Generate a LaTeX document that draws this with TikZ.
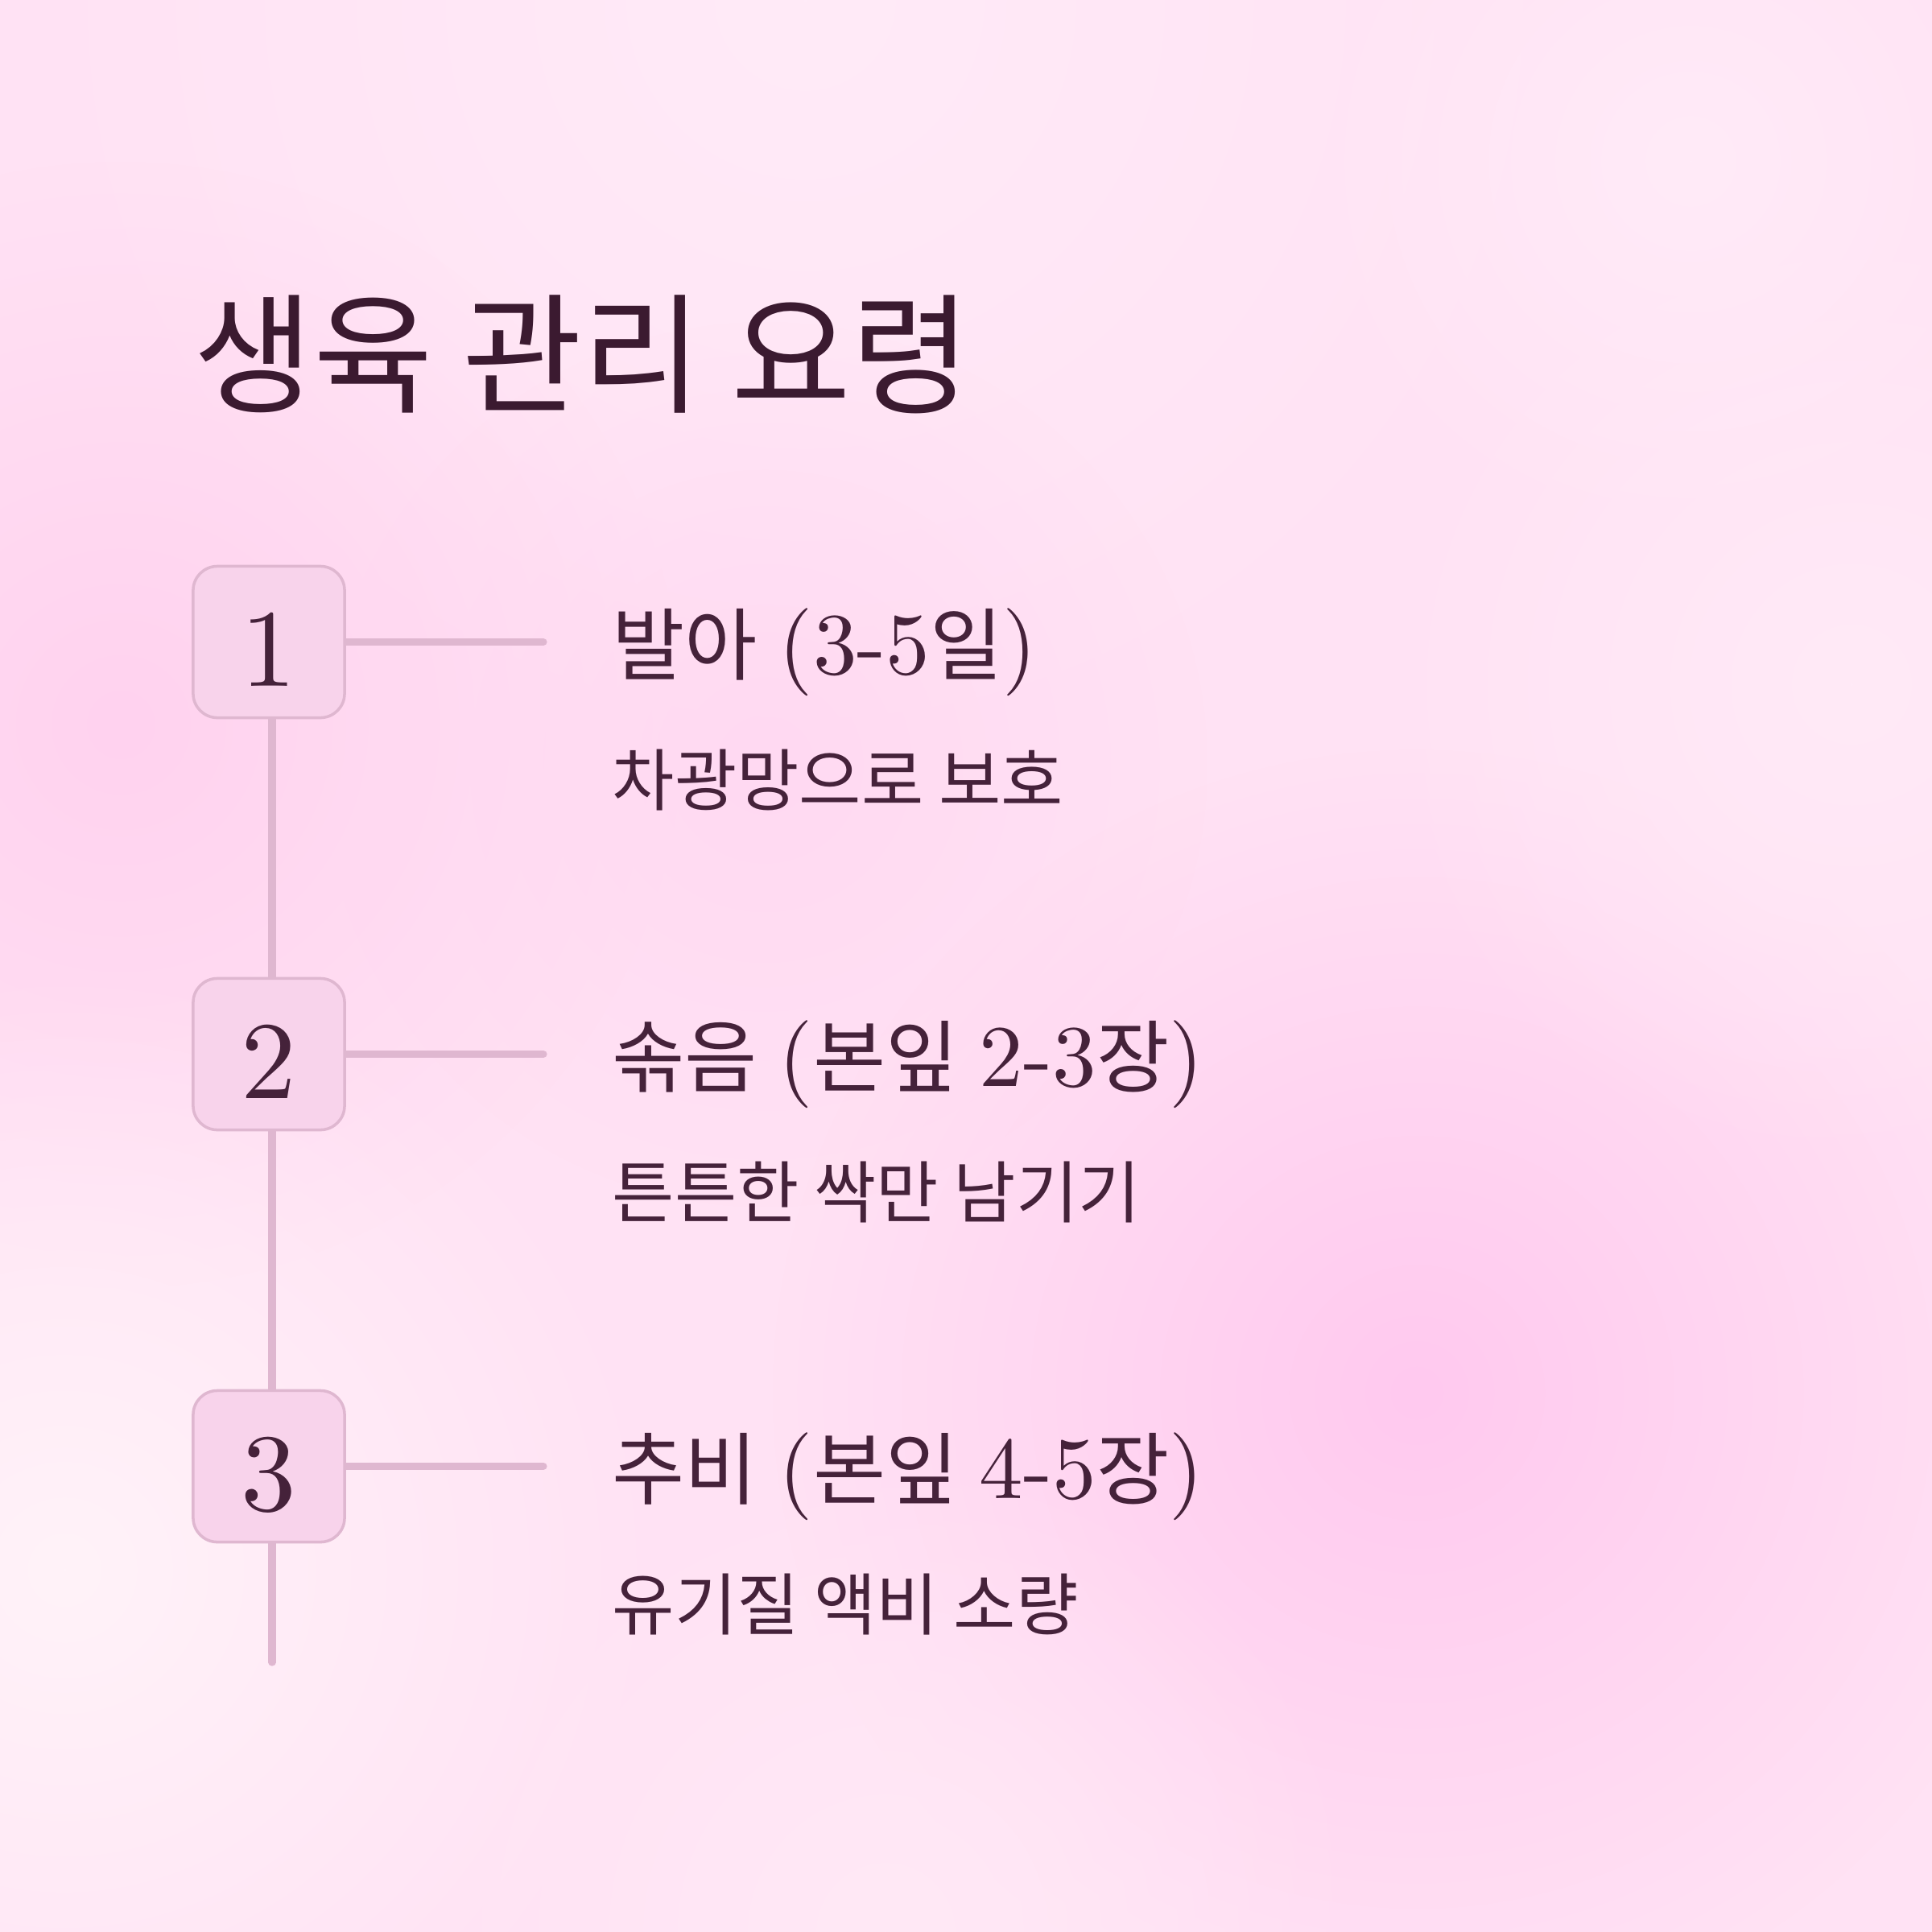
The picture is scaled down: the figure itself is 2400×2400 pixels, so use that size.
\documentclass[tikz,border=0pt]{standalone}
\usepackage{fontspec}
\setmainfont{lmroman10-regular}[Extension=.otf]
\newfontfamily\kr{Noto Sans CJK KR}
\usetikzlibrary{fadings}
\definecolor{bgbase}{HTML}{FFE2F4}
\definecolor{bgA}{HTML}{FFEBF8}
\definecolor{bgB}{HTML}{FFD2EF}
\definecolor{bgC}{HTML}{FFD9F2}
\definecolor{bgD}{HTML}{FFC9EF}
\definecolor{bgE}{HTML}{FFF3F9}
\definecolor{bgF}{HTML}{FFEAF7}
\definecolor{bgG}{HTML}{FFE9F6}
\definecolor{boxfill}{HTML}{F8D3EB}
\definecolor{boxline}{HTML}{DFB7D0}
\definecolor{txt}{HTML}{45223A}
\definecolor{ttl}{HTML}{3B1A30}
\tikzfading[name=softc, inner color=transparent!0, outer color=transparent!100]
\pgfdeclarelayer{back}
\pgfdeclarelayer{lines}
\pgfsetlayers{back,lines,main}
\newcommand\hk[1]{{\kr\fontsize{27.9pt}{30pt}\selectfont #1}}
\newcommand\headfont{\fontsize{31pt}{34pt}\selectfont\spaceskip=7.5pt plus 2pt minus 1pt\relax}
\tikzset{
  numbox/.style={draw=boxline, line width=1pt, fill=boxfill, rounded corners=0.3cm,
    minimum width=1.88cm, minimum height=1.88cm, inner sep=0pt},
  numtxt/.style={anchor=base, inner sep=0pt, text=txt, font=\fontsize{39pt}{40pt}\selectfont},
  conn/.style={draw=boxline, line width=2.6pt, line cap=round},
  head/.style={anchor=base west, inner sep=0pt, text=txt, font=\headfont},
  sub/.style={anchor=base west, inner sep=0pt, text=txt, font=\kr\fontsize{23.9pt}{26pt}\selectfont},
  blob/.style={path fading=softc}
}
\begin{document}
\begin{tikzpicture}[x=0.01cm, y=-0.01cm]
\useasboundingbox (0,0) rectangle (2400,2400);
\begin{pgfonlayer}{back}
  \fill[bgbase] (0,0) rectangle (2400,2400);
  \fill[bgA, blob] (1000,0) circle (1000);
  \fill[bgB, blob] (150,900) circle (700);
  \fill[bgC, blob] (950,950) circle (550);
  \fill[bgD, blob] (1760,1730) circle (800);
  \fill[bgE, blob] (80,1950) circle (750);
  \fill[bgF, blob] (2300,850) circle (600);
  \fill[bgG, blob] (1100,2400) circle (600);
  \fill[bgA, blob] (2100,200) circle (500);
\end{pgfonlayer}

\node[anchor=base west, inner sep=0pt, text=ttl, font=\kr\fontsize{46pt}{50pt}\selectfont] (title) at (240,500) {생육 관리 요령};

\node[numbox] (b1) at (334,797.5) {};
\node[numbox] (b2) at (334,1309.5) {};
\node[numbox] (b3) at (334,1821.5) {};
\node[numtxt] (n1) at (334,852) {1};
\node[numtxt] (n2) at (334,1364) {2};
\node[numtxt] (n3) at (334,1876) {3};

\coordinate (vx) at (338,0);
\coordinate (vend) at (338,2065);
\coordinate (h1) at (675,797.5);
\coordinate (h2) at (675,1309.5);
\coordinate (h3) at (675,1821.5);
\begin{pgfonlayer}{lines}
  \draw[conn] (b1.south -| vx) -- (b2.north -| vx);
  \draw[conn] (b2.south -| vx) -- (b3.north -| vx);
  \draw[conn] (b3.south -| vx) -- (vend);
  \draw[conn] (b1.east) -- (h1);
  \draw[conn] (b2.east) -- (h2);
  \draw[conn] (b3.east) -- (h3);
\end{pgfonlayer}

\node[head] (t1) at (760,837) {\hk{발아} (3-5\hk{일})};
\node[sub] (s1) at (760,1000) {차광망으로 보호};
\node[head] (t2) at (760,1349) {\hk{솎음} (\hk{본잎} 2-3\hk{장})};
\node[sub] (s2) at (760,1512) {튼튼한 싹만 남기기};
\node[head] (t3) at (760,1861) {\hk{추비} (\hk{본잎} 4-5\hk{장})};
\node[sub] (s3) at (760,2024) {유기질 액비 소량};
\end{tikzpicture}
\end{document}
